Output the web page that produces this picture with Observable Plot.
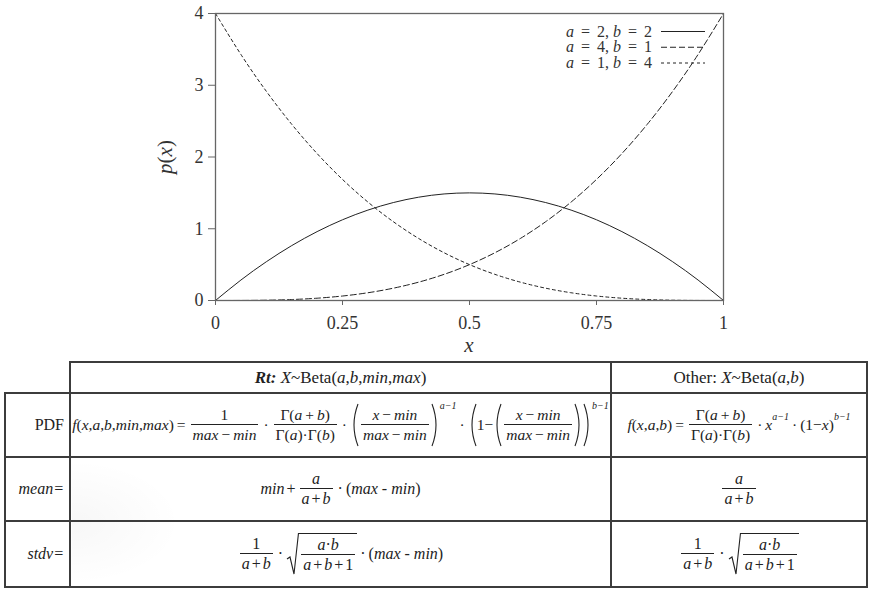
<!DOCTYPE html>
<html><head><meta charset="utf-8">
<script src="https://cdn.jsdelivr.net/npm/d3@7"></script>
<script src="https://cdn.jsdelivr.net/npm/@observablehq/plot@0.6"></script>
<style>
body{margin:0;background:#fff;}
#wrap{position:relative;width:872px;height:590px;overflow:hidden;font-family:"Liberation Serif",serif;color:#222;}
#chart{position:absolute;left:0;top:0;}
#over{position:absolute;left:0;top:0;}
.hl{position:absolute;height:2px;background:#3c3c3c;}
.vl{position:absolute;width:2px;background:#3c3c3c;}
.cell{position:absolute;display:flex;align-items:center;justify-content:center;box-sizing:border-box;}
.lab{justify-content:flex-end;padding-right:6px;font-size:16px;}
.m{font-family:"Liberation Serif",serif;font-size:16px;white-space:nowrap;display:flex;align-items:center;}
.m.p{font-size:15.5px;}
.m i{font-style:italic;}
.frac{display:inline-flex;flex-direction:column;align-items:center;margin:0 2px;}
.frac>.n{padding:0 2px;line-height:18px;display:flex;align-items:center;}
.frac>.d{border-top:1px solid #222;padding:0 2px;line-height:19px;display:flex;align-items:center;}
.op{margin:0 2px;}
.m.p .op{margin:0 3px;}
.dot{margin:0 3px;}
.sp{display:inline-block;width:4px;}
.sup{align-self:flex-start;font-size:10px;margin-top:-3px;font-style:italic;}
.sup2{font-size:10px;position:relative;top:-9px;font-style:italic;}
.sq{display:inline-flex;align-items:stretch;}
.sq .under{border-top:1px solid #222;display:flex;align-items:center;margin-top:1px;}
.hdr{font-size:17px;white-space:nowrap;}
</style>
</head><body>
<div id="wrap">
<div id="chart"></div>
<svg id="over" width="872" height="360"></svg>
<div id="table"></div>
</div>
<script>
// ---- data ----
const xValues = [0,0.05,0.1,0.15,0.2,0.25,0.3,0.35,0.4,0.45,0.5,0.55,0.6,0.65,0.7,0.75,0.8,0.85,0.9,0.95,1];
const pA2B2 = [0,0.285,0.54,0.765,0.96,1.125,1.26,1.365,1.44,1.485,1.5,1.485,1.44,1.365,1.26,1.125,0.96,0.765,0.54,0.285,0];
const pA4B1 = [0,0.0005,0.004,0.0135,0.032,0.0625,0.108,0.1715,0.256,0.3645,0.5,0.6655,0.864,1.0985,1.372,1.6875,2.048,2.4565,2.916,3.4295,4];
const pA1B4 = [4,3.4295,2.916,2.4565,2.048,1.6875,1.372,1.0985,0.864,0.6655,0.5,0.3645,0.256,0.1715,0.108,0.0625,0.032,0.0135,0.004,0.0005,0];
const seriesLabels = [["a","2","b","2"],["a","4","b","1"],["a","1","b","4"]];
const xTicks = [0,0.25,0.5,0.75,1];
const xTickLabels = ["0","0.25","0.5","0.75","1"];
const yTicks = [0,1,2,3,4];
const yTickLabels = ["0","1","2","3","4"];
const dashes = ["none","6,3","3,3"];

const toRows = arr => xValues.map((x,i)=>({x, y: arr[i]}));
const seriesData = [toRows(pA2B2), toRows(pA4B1), toRows(pA1B4)];

const plot = Plot.plot({
  width: 872, height: 360,
  marginLeft: 215, marginRight: 149, marginTop: 13, marginBottom: 60,
  x: {domain: [0,1]},
  y: {domain: [0,4]},
  style: {fontFamily: "Liberation Serif, serif", fontSize: "18px", color: "#333", background: "transparent", overflow: "visible"},
  marks: [
    ...seriesData.map((d,i) => Plot.line(d, {x: "x", y: "y", stroke: "#222", strokeWidth: 1, strokeDasharray: dashes[i], curve: "natural"})),
    Plot.frame({stroke: "#666", strokeWidth: 1.3}),
    Plot.axisX({ticks: xTicks, tickFormat: (d) => xTickLabels[xTicks.indexOf(d)], tickSize: 5, tickPadding: 11, label: null, stroke: "#666"}),
    Plot.axisY({ticks: yTicks, tickFormat: (d) => yTickLabels[yTicks.indexOf(d)], tickSize: 7, tickPadding: 5, label: null, stroke: "#666"})
  ]
});
document.getElementById("chart").appendChild(plot);

// overlay: axis titles + legend
const ov = d3.select("#over");
ov.append("text").attr("x", 469).attr("y", 352).attr("text-anchor","middle")
  .attr("font-family","Liberation Serif").attr("font-size",21).attr("font-style","italic").attr("fill","#333").text("x");
const py = ov.append("text").attr("transform","translate(172,157) rotate(-90)").attr("text-anchor","middle")
  .attr("font-family","Liberation Serif").attr("font-size",21).attr("fill","#333");
py.append("tspan").attr("font-style","italic").text("p");
py.append("tspan").text("(");
py.append("tspan").attr("font-style","italic").text("x");
py.append("tspan").text(")");

const legY = [31.5, 47.25, 63];
seriesLabels.forEach((L,i) => {
  const t = ov.append("text").attr("x", 652).attr("y", legY[i] + 5).attr("text-anchor","end")
    .attr("font-family","Liberation Serif").attr("font-size",16).attr("fill","#333").style("white-space","pre");
  t.append("tspan").attr("font-style","italic").text(L[0]);
  t.append("tspan").attr("dx", 3).text(" = ");
  t.append("tspan").attr("dx", 3).text(L[1] + ",");
  t.append("tspan").attr("dx", 4).attr("font-style","italic").text(L[2]);
  t.append("tspan").attr("dx", 3).text(" = ");
  t.append("tspan").attr("dx", 3).text(L[3]);
  ov.append("line").attr("x1", 661).attr("x2", 705).attr("y1", legY[i]).attr("y2", legY[i])
    .attr("stroke","#222").attr("stroke-width",1).attr("stroke-dasharray", dashes[i]);
});

// ---- table ----
const I = s => `<i>${s}</i>`;
const op = s => `<span class="op">${s}</span>`;
const sp = `<span class="sp"></span>`;
const dot = `<span class="dot">·</span>`;
const frac = (n,d) => `<span class="frac"><span class="n">${n}</span><span class="d">${d}</span></span>`;
const bigL = `<svg width="9" height="44" viewBox="0 0 9 44"><path d="M8,1 Q0,22 8,43" fill="none" stroke="#222" stroke-width="1.1"/></svg>`;
const bigR = `<svg width="9" height="44" viewBox="0 0 9 44"><path d="M1,1 Q9,22 1,43" fill="none" stroke="#222" stroke-width="1.1"/></svg>`;
const sup = s => `<span class="sup">${s}</span>`;
const sqrt = inner => `<span class="sq"><svg width="13" height="44" viewBox="0 0 13 44" style="flex:none"><path d="M1,27 L4,25 L8,42 L12.5,1" fill="none" stroke="#222" stroke-width="1.1"/></svg><span class="under">${inner}</span></span>`;
const G = s => `Γ(${s})`;

const maxmin = `${I("max")}${op("−")}${I("min")}`;
const xmin = `${I("x")}${op("−")}${I("min")}`;
const gfrac = frac(`${G(I("a")+op("+")+I("b"))}`, `${G(I("a"))}·${G(I("b"))}`);

const rtPDF = `${I("f")}(${I("x")},${I("a")},${I("b")},${I("min")},${I("max")})${op("=")}${frac("1", maxmin)}${dot}${gfrac}${dot}${bigL}${frac(xmin, maxmin)}${bigR}${sup("a−1")}${dot}${bigL}1−${bigL}${frac(xmin, maxmin)}${bigR}${bigR}${sup("b−1")}`;
const otPDF = `${I("f")}(${I("x")},${I("a")},${I("b")})${op("=")}${gfrac}${dot}${I("x")}<span class="sup2">a−1</span>${dot}(1−${I("x")})<span class="sup2">b−1</span>`;
const apb = `${I("a")}${op("+")}${I("b")}`;
const mm = `(${I("max")}${sp}-${sp}${I("min")})`;
const rtMean = `${I("min")}${op("+")}${frac(I("a"), apb)}${dot}${mm}`;
const otMean = `${frac(I("a"), apb)}`;
const sq = sqrt(frac(`${I("a")}·${I("b")}`, `${I("a")}${op("+")}${I("b")}${op("+")}1`));
const rtStd = `${frac("1", apb)}${dot}${sq}${dot}${mm}`;
const otStd = `${frac("1", apb)}${dot}${sq}`;

const hLines = [[362,70,867],[393,5,867],[457,5,867],[521,5,867],[587,5,867]];
const vLines = [[5,393,587],[70,362,587],[611,362,587],[867,362,587]];
const cells = [
  [70,362,541,31,`<span class="hdr"><b><i>Rt:</i></b> <i>X</i>~Beta(<i>a</i>,<i>b</i>,<i>min</i>,<i>max</i>)</span>`,""],
  [611,362,256,31,`<span class="hdr">Other: <i>X</i>~Beta(<i>a</i>,<i>b</i>)</span>`,""],
  [5,393,65,64,`PDF`,"lab"],
  [5,457,65,64,`<i>mean=</i>`,"lab"],
  [5,521,65,66,`<i>stdv=</i>`,"lab"],
  [70,393,541,64,`<span class="m p">${rtPDF}</span>`,""],
  [611,393,256,64,`<span class="m p">${otPDF}</span>`,""],
  [70,457,541,64,`<span class="m">${rtMean}</span>`,""],
  [611,457,256,64,`<span class="m">${otMean}</span>`,""],
  [70,521,541,66,`<span class="m">${rtStd}</span>`,""],
  [611,521,256,66,`<span class="m">${otStd}</span>`,""]
];
let html = `<div style="position:absolute;left:72px;top:459px;width:110px;height:126px;background:radial-gradient(ellipse at 0% 50%, rgba(0,0,0,0.03), rgba(0,0,0,0) 70%);"></div>`;
hLines.forEach(([y,x1,x2]) => html += `<div class="hl" style="top:${y-1}px;left:${x1-1}px;width:${x2-x1+2}px"></div>`);
vLines.forEach(([x,y1,y2]) => html += `<div class="vl" style="left:${x-1}px;top:${y1-1}px;height:${y2-y1+2}px"></div>`);
cells.forEach(([x,y,w,h,c,cls]) => html += `<div class="cell ${cls}" style="left:${x}px;top:${y}px;width:${w}px;height:${h}px">${c}</div>`);
document.getElementById("table").innerHTML = html;
</script>
</body></html>
